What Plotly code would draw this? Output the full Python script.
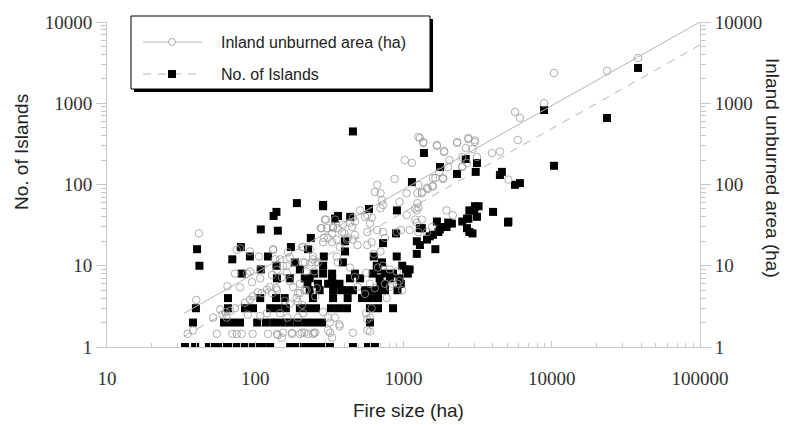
import plotly.graph_objects as go

# ---------------- data ----------------
# No. of Islands vs fire size (ha)
islands_fire = [
    # count 1
    33.6, 39.3, 48.7, 54.3, 61.5, 68.6, 77.6, 86.6, 98, 111, 126, 172, 194, 220, 249, 282, 319, 456, 576, 642,
    # count 2
    38.0, 61.5, 69.7, 78.9, 103, 118, 134, 151, 171, 194, 220, 249, 282, 594,
    # count 3
    39.8, 65.5, 85.3, 96.6, 126, 142, 161, 200, 227, 257, 324, 367, 416, 594, 673, 850,
    # count 4
    65.5, 108, 138, 158, 245, 335, 420, 525, 594, 673,
    # count 5
    233, 272, 335, 380, 416, 456, 550, 594, 673, 750, 910,
    # count 6
    225, 265, 310, 335, 370, 700, 750, 960,
    # count 7
    140, 171, 216, 233, 330, 435, 510, 690, 810, 940,
    # count 8
    81, 250, 287, 330, 470, 620, 750, 850, 1070,
    # count 9 - 13
    109, 200, 670, 1040, 1100, 42, 139, 287, 660, 980, 185, 390, 716, 70, 92, 122, 290, 630, 900,
    # 14 - 22
    1230, 1640, 40.5, 227, 174, 80, 403, 403, 1230, 1290, 728, 237,
    # 23 - 35
    1580, 2920, 1500, 1440, 1290, 1760, 1330, 109, 142, 2680, 2780, 1720, 890,
    1850, 1950, 2000, 2120, 1680, 2490, 5070, 5100,
    # 38 - 60
    345, 362, 437, 2680, 3130, 2740, 133, 139, 4020, 585, 903, 2780, 3000, 3030, 3210, 286, 191, 287,
    # 100 - 250
    1140, 1374, 1762, 2296, 2630, 3130, 3070, 4610, 4470, 5650, 6100, 10350,
    # large
    456, 8870, 23600, 38200,
]
islands_count = [
    1, 1, 1, 1, 1, 1, 1, 1, 1, 1, 1, 1, 1, 1, 1, 1, 1, 1, 1, 1,
    2, 2, 2, 2, 2, 2, 2, 2, 2, 2, 2, 2, 2, 2,
    3, 3, 3, 3, 3, 3, 3, 3, 3, 3, 3, 3, 3, 3, 3, 3,
    4, 4, 4, 4, 4, 4, 4, 4, 4, 4,
    5, 5, 5, 5, 5, 5, 5, 5, 5, 5, 5,
    6, 6, 6, 6, 6, 6, 6, 6,
    7, 7, 7, 7, 7, 7, 7, 7, 7, 7,
    8, 8, 8, 8, 8, 8, 8, 8, 8,
    9, 9, 9, 9, 9, 10, 10, 10, 10, 10, 11, 11, 11, 12, 13, 13, 13, 13, 13,
    14, 16, 16, 16, 17, 17, 15, 20, 20, 18, 19, 22,
    24, 25, 23, 21, 29, 28, 29, 28, 27, 29, 26, 26, 25,
    30, 30, 34, 33, 35, 35, 34, 35,
    38, 41, 40, 38, 40, 38, 41, 46, 46, 50, 48, 48, 48, 54, 54, 54, 59, 56,
    107, 244, 164, 135, 206, 184, 143, 143, 131, 99, 104, 170,
    450, 826, 658, 2720,
]

# Inland unburned area (ha) vs fire size (ha)
inland_fire = [
    38200, 23600, 10350, 8870, 5650, 6100, 5900, 5100, 2300, 2740, 3030, 3030, 2630, 2930, 3130, 2490,
    3950, 4470, 2490, 2680, 2040, 1880, 1680, 1290, 1360, 1140, 2000, 2490, 1740, 1850, 1640, 1560,
    1440, 1330, 1240, 1240, 1200, 1230, 1330, 1260, 1360, 1680, 1880, 2300, 2740, 1020, 870, 665,
    640, 700, 715, 728, 700, 1050, 940, 1260, 1330, 1260, 1230, 1580, 1850, 1460, 1580, 510,
    570, 610, 594, 570, 665, 728, 750, 900, 960, 456, 435, 450, 390, 360, 335, 300,
    277, 310, 355, 372, 470, 490, 570, 610, 700, 630, 728, 810, 560, 673, 435, 470,
    490, 355, 360, 245, 265, 220, 250, 240, 210, 370, 330, 456, 570, 215, 250, 310,
    560, 610, 900, 940, 910, 810, 980, 770, 640, 550, 1100, 1260, 1440, 1560, 1050, 1200,
    1950, 2150, 550, 470, 345, 295, 335, 280, 290, 385, 420, 456, 207, 233, 254, 171,
    185, 163, 132, 147, 163, 151, 171, 200, 216, 194, 140, 130, 158, 171, 190, 147,
    165, 194, 210, 154, 177, 207, 254, 320, 320, 345, 594, 570, 594, 594, 750, 840,
    41.7, 40, 35, 38, 52, 55, 58, 63, 68, 60, 64, 73, 70, 75, 81, 96,
    65, 79, 73, 88, 95, 79, 75, 108, 120, 126, 138, 104, 111, 96, 92, 85,
    89, 108, 120, 122, 140, 132, 136, 130, 140, 92, 106, 154, 166, 210, 216, 245,
    305, 330, 287, 330, 400, 415, 370, 287, 310, 200, 222, 254, 260, 180, 194, 207,
    142, 151, 177, 200, 227, 245, 92, 108,
]
inland_area = [
    3600, 2500, 2360, 1000, 780, 660, 353, 115, 333, 373, 350, 333, 281, 274, 218, 218,
    244, 255, 164, 184, 200, 258, 298, 373, 324, 184, 164, 168, 143, 120, 120, 95,
    91, 81, 78, 59, 51, 34, 37, 385, 333, 306, 251, 324, 363, 200, 117, 99,
    81, 78, 64, 56, 51, 78, 61, 99, 78, 52, 48, 120, 117, 88, 95, 48,
    42, 39, 33, 26, 27.5, 26, 22, 26, 27.5, 39, 34, 30, 32, 29, 30, 37,
    29, 22, 21, 17, 24, 18, 18, 19.5, 15, 14, 10, 9, 8.2, 9.5, 9.5, 7.3,
    5.5, 13, 11, 13, 11, 8.5, 8.5, 11, 11, 1.8, 1.3, 1.5, 1.6, 1.5, 1.5, 1.6,
    2.6, 3, 8.5, 6.5, 6, 5.5, 5, 4, 5.3, 4.5, 27.5, 26, 26, 30, 42, 37,
    48, 42, 40, 35, 37, 37, 29, 29, 22, 26, 22, 21, 17, 16, 11, 12.6,
    11, 10, 16, 12, 8.2, 7.2, 6.5, 6, 5, 4.6, 5, 4.6, 3.7, 3.4, 4, 2.6,
    2.3, 2.3, 2.6, 1.5, 1.5, 1.5, 1.5, 1.5, 2, 2.3, 1.55, 2.2, 2.3, 6, 6, 6,
    25, 3.8, 1.45, 1.6, 2.3, 1.45, 2.9, 2.7, 2.8, 2.5, 2.3, 3, 1.45, 1.45, 1.45, 1.45,
    5.6, 5.4, 8, 8, 6.3, 16.4, 15.7, 7, 5.1, 5.5, 5.3, 4.7, 4.6, 4.2, 3.8, 3.5,
    2.5, 2.4, 2.6, 1.45, 1.45, 15.6, 12, 7.7, 8.9, 15, 13, 10, 14.6, 17, 11, 12,
    29, 25, 19.5, 19.5, 25, 21, 1.9, 2.7, 2.3, 4.6, 5, 4.2, 5.3, 5.5, 3.6, 3.3,
    1.4, 1.3, 1.45, 1.45, 1.45, 1.45, 8.5, 8.9,
]

# power-law fits  y = 10**log_a * x**b
inland_fit = {"log_a": -1.15, "b": 1.03}
islands_fit = {"log_a": -1.433, "b": 1.03}
fit_range = [33, 100000]

x_tickvals = [10, 100, 1000, 10000, 100000]
x_ticktext = ["10", "100", "1000", "10000", "100000"]
y_tickvals = [1, 10, 100, 1000, 10000]
y_ticktext = ["1", "10", "100", "1000", "10000"]

legend_labels = ["Inland unburned area (ha)", "No. of Islands"]
x_title = "Fire size (ha)"
y_title = "No. of Islands"
y2_title = "Inland unburned area (ha)"

# ---------------- figure ----------------
W, H = 788, 425
L, R, T, B = 107, 88, 22, 78
PW, PH = W - L - R, H - T - B


def px(x):
    return (x - L) / PW


def py(y):
    return (H - B - y) / PH


LINE_GRAY = "#b4b4b4"
AXIS_GRAY = "#c8c8c8"
CIRCLE_GRAY = "#9a9a9a"
SERIF = "Liberation Serif, Times New Roman, serif"
SANS = "Liberation Sans, Arial, sans-serif"

fit_y_inland = [10 ** inland_fit["log_a"] * v ** inland_fit["b"] for v in fit_range]
fit_y_islands = [10 ** islands_fit["log_a"] * v ** islands_fit["b"] for v in fit_range]

fig = go.Figure()
fig.add_trace(go.Scatter(x=fit_range, y=fit_y_islands, mode="lines", yaxis="y",
                         line=dict(color=LINE_GRAY, width=1, dash="8px,7px"),
                         hoverinfo="skip", showlegend=False))
fig.add_trace(go.Scatter(x=islands_fire, y=islands_count, mode="markers", yaxis="y",
                         marker=dict(symbol="square", size=8, color="black"),
                         name=legend_labels[1], showlegend=False))
fig.add_trace(go.Scatter(x=fit_range, y=fit_y_inland, mode="lines", yaxis="y2",
                         line=dict(color=LINE_GRAY, width=1),
                         hoverinfo="skip", showlegend=False))
fig.add_trace(go.Scatter(x=inland_fire, y=inland_area, mode="markers", yaxis="y2",
                         marker=dict(symbol="circle-open", size=7.5, color=CIRCLE_GRAY,
                                     line=dict(width=0.8, color=CIRCLE_GRAY)),
                         name=legend_labels[0], showlegend=False))

minor_y = [k * 10 ** d for d in range(0, 4) for k in range(2, 10)]
minor_x = [k * 10 ** d for d in range(1, 5) for k in range(2, 10)]

common_y = dict(type="log", range=[0, 4], showgrid=False, zeroline=False,
                showline=True, linecolor=AXIS_GRAY, linewidth=1,
                ticks="outside", ticklen=10, tickcolor=AXIS_GRAY, tickwidth=1,
                tickmode="array", tickvals=y_tickvals, ticktext=y_ticktext,
                tickfont=dict(family=SERIF, size=19, color="#333333"),
                minor=dict(ticks="outside", ticklen=5, tickcolor=AXIS_GRAY,
                           tickmode="array", tickvals=minor_y, showgrid=False))

fig.update_layout(
    width=W, height=H, autosize=False,
    margin=dict(l=L, r=R, t=T, b=B),
    paper_bgcolor="white", plot_bgcolor="white",
    showlegend=False,
    xaxis=dict(type="log", range=[1, 5], showgrid=False, zeroline=False,
               showline=True, linecolor=AXIS_GRAY, linewidth=1,
               ticks="inside", ticklen=6, tickcolor=AXIS_GRAY, tickwidth=1,
               tickmode="array", tickvals=x_tickvals, ticktext=x_ticktext,
               tickfont=dict(family=SERIF, size=19, color="#333333"),
               ticklabelstandoff=14,
               minor=dict(ticks="inside", ticklen=4, tickcolor=AXIS_GRAY,
                          tickmode="array", tickvals=minor_x, showgrid=False)),
    yaxis=dict(side="left", **common_y),
    yaxis2=dict(side="right", overlaying="y", **common_y),
)

# axis titles
fig.add_annotation(text=y_title, xref="paper", yref="paper", x=px(21), y=py(152),
                   textangle=-90, showarrow=False, xanchor="center", yanchor="middle",
                   font=dict(family=SANS, size=19, color="#222222"))
fig.add_annotation(text=y2_title, xref="paper", yref="paper", x=px(773), y=py(168),
                   textangle=90, showarrow=False, xanchor="center", yanchor="middle",
                   font=dict(family=SANS, size=19, color="#222222"))
fig.add_annotation(text=x_title, xref="paper", yref="paper", x=px(408), y=py(410),
                   showarrow=False, xanchor="center", yanchor="middle",
                   font=dict(family=SANS, size=19, color="#222222"))

# legend box with drop shadow
fig.add_shape(type="rect", xref="paper", yref="paper", x0=px(134), x1=px(433),
              y0=py(92), y1=py(19), fillcolor="black", line=dict(width=0), layer="above")
fig.add_shape(type="rect", xref="paper", yref="paper", x0=px(131), x1=px(430),
              y0=py(89), y1=py(16), fillcolor="white", line=dict(color="black", width=1),
              layer="above")
rows = [42, 74]
fig.add_shape(type="line", xref="paper", yref="paper", x0=px(143), x1=px(202),
              y0=py(rows[0]), y1=py(rows[0]), line=dict(color=LINE_GRAY, width=1), layer="above")
fig.add_shape(type="circle", xref="paper", yref="paper", xsizemode="pixel", ysizemode="pixel",
              xanchor=px(172), yanchor=py(rows[0]), x0=-3.5, x1=3.5, y0=-3.5, y1=3.5,
              fillcolor="white", line=dict(color=CIRCLE_GRAY, width=0.8), layer="above")
fig.add_shape(type="line", xref="paper", yref="paper", x0=px(143), x1=px(202),
              y0=py(rows[1]), y1=py(rows[1]), line=dict(color=LINE_GRAY, width=1, dash="8px,7px"),
              layer="above")
fig.add_shape(type="rect", xref="paper", yref="paper", xsizemode="pixel", ysizemode="pixel",
              xanchor=px(172), yanchor=py(rows[1]), x0=-4, x1=4, y0=-4, y1=4,
              fillcolor="black", line=dict(width=0), layer="above")
for lab, r in zip(legend_labels, rows):
    fig.add_annotation(text=lab, xref="paper", yref="paper", x=px(219), y=py(r),
                       showarrow=False, xanchor="left", yanchor="middle",
                       font=dict(family=SANS, size=16, color="#222222"))

fig.write_html(
    "out.html",
    config={"displayModeBar": False},
    post_script="document.body.style.margin='0';document.body.style.overflow='hidden';",
)
